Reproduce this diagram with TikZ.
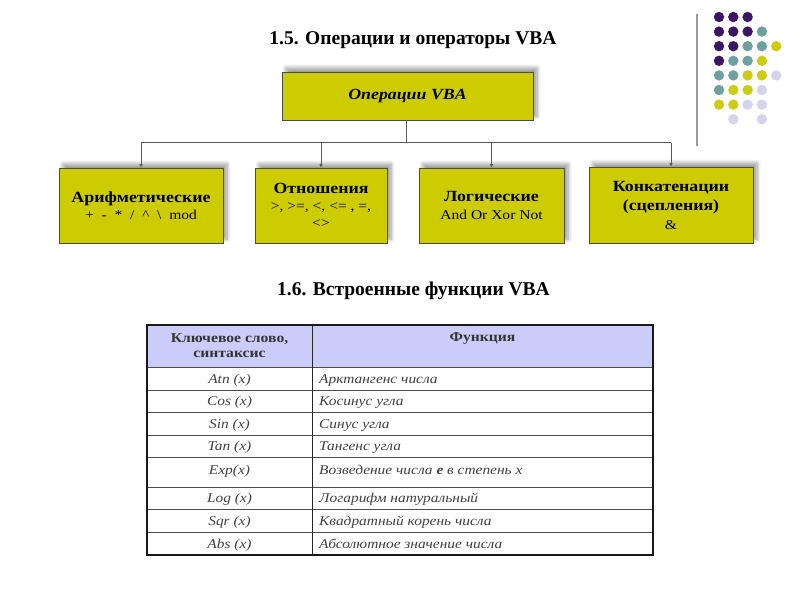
\documentclass[tikz,border=0pt]{standalone}
\usepackage{fontspec}
\setmainfont{Liberation Serif}
\newfontfamily\widefont[FakeStretch=1.15]{Liberation Serif}
\usetikzlibrary{arrows.meta,shadows.blur}

\definecolor{opyellow}{RGB}{204,204,0}
\definecolor{dotpurple}{RGB}{60,22,100}
\definecolor{dotteal}{RGB}{110,160,160}
\definecolor{dotyellow}{RGB}{204,204,20}
\definecolor{dotlilac}{RGB}{212,212,236}
\definecolor{headlilac}{RGB}{204,204,250}

\newcommand\opsfont{\mdseries\fontsize{13.5}{18}\selectfont}

\tikzset{%
  every node/.style={
    inner sep=1pt
  },
  opbox/.style={
    draw=black!70, fill=opyellow, line width=0.6pt,
    blur shadow={shadow xshift=4pt, shadow yshift=4pt, shadow blur steps=8, shadow blur radius=4pt, shadow opacity=40},
    align=center, font=\widefont\fontsize{15.5}{18}\selectfont\bfseries
  },
  link/.style={draw=black!65, line width=0.7pt},
  tip/.style={-{Latex[length=3.5pt,width=3.5pt]}},
  cell/.style={font=\widefont\fontsize{13.4}{15}\selectfont\itshape, text=black!75, anchor=base},
  headcell/.style={font=\widefont\fontsize{13.6}{14.5}\selectfont\bfseries, text=black!80, align=center}
}

\begin{document}
\begin{tikzpicture}[x=1pt,y=-1pt]
      \useasboundingbox (0,0) rectangle (800,600);
      % dots in the corner
      \draw[black!40, line width=1.6pt] (697,14) -- (697,146);
      \foreach \r/\cols in {0/{0,1,2},1/{0,1,2,3},2/{0,1,2,3,4},3/{0,1,2,3},
                            4/{0,1,2,3,4},5/{0,1,2,3},6/{0,1,2,3},7/{1,3}}{
        \foreach \c in \cols {
          \pgfmathtruncatemacro\s{\r+\c}
          \ifnum\s<4 \def\dc{dotpurple}\else
            \ifnum\s<6 \def\dc{dotteal}\else
              \ifnum\s<8 \def\dc{dotyellow}\else \def\dc{dotlilac}\fi\fi\fi
          \fill[\dc] (719+14.3*\c, 17+14.6*\r) circle (5.2);
        }
      }
      % titles
      \node (t1) at (413,40) {\fontsize{19.5}{22}\selectfont\bfseries 1.5. Операции и операторы VBA};
      \node (t2) at (413.5,291) {\fontsize{19.5}{22}\selectfont\bfseries 1.6. Встроенные функции VBA};
      % operations tree
      \node[opbox, minimum width=251, minimum height=48] (ops) at (407.5,96)
        {\itshape Операции VBA};
      \node[opbox, minimum width=164, minimum height=75] (ar) at (141,205.5)
        {Арифметические\\[-1pt]\opsfont + \ - \ * \ / \ \textasciicircum\ \ \textbackslash\ \ mod};
      \node[opbox, minimum width=132, minimum height=75] (rel) at (321,205.5)
        {Отношения\\[-1pt]\opsfont >, >=, <, <= , =,\\[-1pt]\opsfont <>};
      \node[opbox, minimum width=145, minimum height=75] (lg) at (491.5,205.5)
        {Логические\\\opsfont And Or Xor Not};
      \node[opbox, minimum width=164, minimum height=76] (cat) at (671,205)
        {Конкатенации\\[1pt](сцепления)\\[1pt]\opsfont \&};
      \coordinate (fork) at (406,142.5);
      \draw[link] (ops.south -| fork) -- (fork);
      \draw[link] (fork -| ar) -- (fork -| cat);
      \foreach \b in {ar,rel,lg,cat}
        \draw[link,tip] (fork -| \b) -- (\b.north);
      % table of functions
      \fill[headlilac] (147,325) rectangle (653,367);
      \foreach \y in {367,390,412,435,457,487,509,532}
        \draw[black!70, line width=0.8pt] (147,\y) -- (653,\y);
      \draw[black!85, line width=0.9pt] (312,325) -- (312,555);
      \draw[black!90, line width=1.8pt] (147,325) rectangle (653,555);
      \node[headcell] (h1) at (229.5,345.5) {Ключевое слово,\\синтаксис};
      \node[headcell] (h2) at (482.5,339) {Функция};
      \foreach \k/\f/\ya/\yb [count=\i] in {%
          Atn (x)/Арктангенс числа/367/390,
          Cos (x)/Косинус угла/390/412,
          Sin (x)/Синус угла/412/435,
          Tan (x)/Тангенс угла/435/457,
          Exp(x)/Возведение числа \textbf{e} в степень х/457/483,
          Log (x)/Логарифм натуральный/487/509,
          Sqr (x)/Квадратный корень числа/509/532,
          Abs (x)/Абсолютное значение числа/532/555}{
        \node[cell] (k\i) at (229.5,{(\ya+\yb)/2+4.5}) {\k};
        \node[cell, anchor=base west] (f\i) at (318,{(\ya+\yb)/2+4.5}) {\f};
      }
    \end{tikzpicture}
\end{document}
